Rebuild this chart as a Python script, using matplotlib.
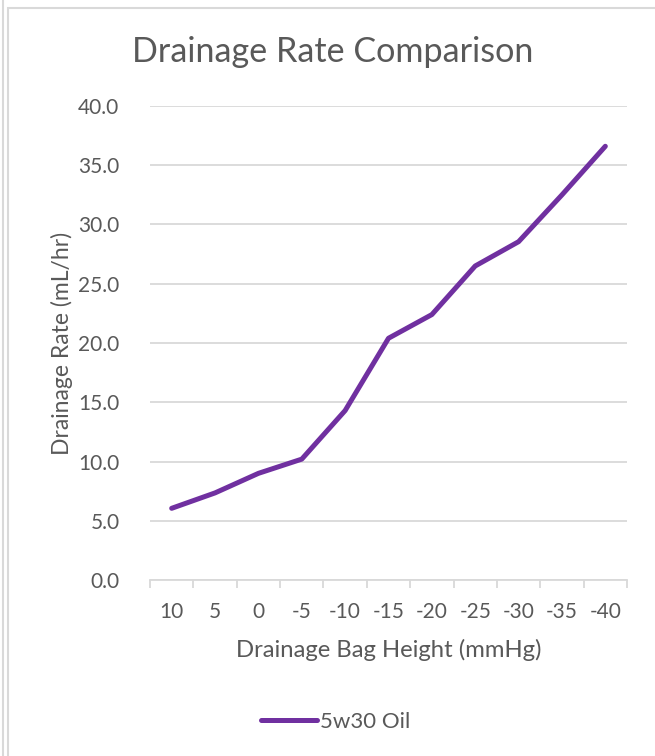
import matplotlib.pyplot as plt
from matplotlib.lines import Line2D
from matplotlib.patches import Rectangle
from matplotlib.ticker import FormatStrFormatter

# bag height settings (mmHg) and measured drainage rate (mL/hr)
heights = ['10', '5', '0', '-5', '-10', '-15', '-20', '-25', '-30', '-35', '-40']
rate_5w30 = [6.05, 7.35, 9.0, 10.2, 14.3, 20.4, 22.4, 26.5, 28.55, 32.5, 36.6]

plt.rcParams['font.family'] = ['Lato', 'DejaVu Sans']
txt = '#595959'
grid = '#D9D9D9'
purple = '#7030A0'

fig = plt.figure(figsize=(6.55, 7.56), dpi=100)
W, H = 655, 756
ax = fig.add_axes([150 / W, 1 - 580 / H, 477 / W, 474 / H])

x = list(range(len(heights)))
ax.plot(x, rate_5w30, color=purple, lw=3.6, solid_capstyle='round', solid_joinstyle='round')

ax.set_xlim(-0.5, len(heights) - 0.5)
ax.set_ylim(0, 40)
ax.set_yticks(range(0, 41, 5))
ax.yaxis.set_major_formatter(FormatStrFormatter('%.1f'))
ax.set_xticks(x)
ax.set_xticklabels(heights)
ax.set_xticks([i - 0.5 for i in range(len(heights) + 1)], minor=True)

ax.grid(axis='y', color=grid, lw=1.3)
ax.set_axisbelow(True)
for s in ['top', 'right', 'left']:
    ax.spines[s].set_visible(False)
ax.spines['bottom'].set_color(grid)
ax.spines['bottom'].set_linewidth(1.3)
ax.tick_params(axis='y', length=0, pad=22, labelsize=15, labelcolor=txt)
ax.tick_params(axis='x', which='major', length=0, pad=16, labelsize=15, labelcolor=txt)
ax.tick_params(axis='x', which='minor', length=6, width=1.3, color=grid)

ax.set_xlabel('Drainage Bag Height (mmHg)', fontsize=17.2, color=txt, labelpad=12)
ax.set_ylabel('Drainage Rate (mL/hr)', fontsize=16.5, color=txt, labelpad=4)
fig.text(333 / W, 1 - 52 / H, 'Drainage Rate Comparison', fontsize=24.6, color=txt,
         ha='center', va='center')

handle = Line2D([], [], color=purple, lw=3.6, solid_capstyle='round')
fig.legend([handle], ['5w30 Oil'], loc='center', bbox_to_anchor=(336 / W, 1 - 722 / H),
           frameon=False, fontsize=16, labelcolor=txt, handlelength=2.5, handletextpad=0.15)

# chart area border
fig.patches.append(Rectangle((8 / W, -0.05), 1.1, 1 - 8 / H + 0.05, transform=fig.transFigure,
                             fill=False, edgecolor=grid, lw=1.5))
fig.lines.append(Line2D([3 / W, 3 / W], [0, 1], transform=fig.transFigure, color=grid, lw=1.5))

fig.savefig('out.png', dpi=100)
